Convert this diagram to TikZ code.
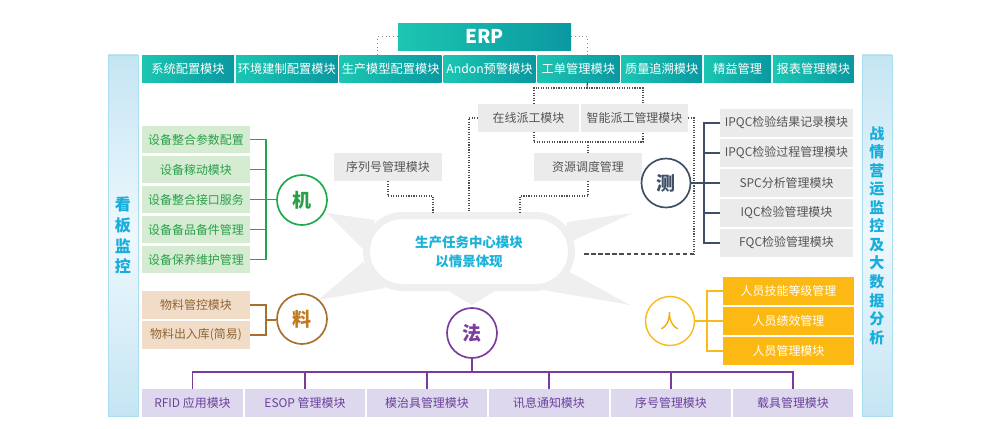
\documentclass[tikz,border=0pt]{standalone}
\usepackage{fontspec}
\usetikzlibrary{calc,positioning}
\newfontfamily\cjk{Noto Sans CJK SC}
\definecolor{tealL}{HTML}{1CC6B2}
\definecolor{tealR}{HTML}{0A98A0}
\definecolor{sideblue}{HTML}{C5E5F3}
\definecolor{sidelight}{HTML}{EEF8FD}
\definecolor{sideedge}{HTML}{A9DDF0}
\definecolor{sidetext}{HTML}{17AEDC}
\definecolor{jigreen}{HTML}{1DAA4B}
\definecolor{jifill}{HTML}{D5ECD3}
\definecolor{jitext}{HTML}{2A9F49}
\definecolor{liaofill}{HTML}{F1DCC8}
\definecolor{liaotext}{HTML}{8E6535}
\definecolor{liaoline}{HTML}{A8702F}
\definecolor{liaochar}{HTML}{C27A1F}
\definecolor{fapurple}{HTML}{7B3C9E}
\definecolor{fafill}{HTML}{DDD8EE}
\definecolor{fatext}{HTML}{6C3F9C}
\definecolor{ceslate}{HTML}{3F4F66}
\definecolor{cefill}{HTML}{EBEBEB}
\definecolor{boxtext}{HTML}{555555}
\definecolor{renyellow}{HTML}{FDB913}
\definecolor{renline}{HTML}{F7BC1A}
\definecolor{renchar}{HTML}{F2A900}
\definecolor{burstgray}{HTML}{EFEFEF}
\definecolor{coretext}{HTML}{1AB2DA}
\tikzset{
  topmod/.style={left color=tealL, right color=tealR, text=white,
                 minimum height=6.75mm, inner sep=0pt, outer sep=0pt,
                 font=\cjk\fontsize{8.7}{10}\selectfont},
  sidepanel/.style={top color=sideblue, bottom color=sideblue,
                    middle color=sidelight, draw=sideedge, line width=0.5pt,
                    minimum width=7.5mm, minimum height=90.25mm,
                    inner sep=0pt, align=center, text=sidetext},
  modbox/.style={minimum height=7mm, inner sep=0pt, outer sep=0pt,
                 font=\cjk\fontsize{8.5}{10}\selectfont},
  jibox/.style={modbox, fill=jifill, text=jitext, minimum width=27mm,
                minimum height=6.75mm},
  liaobox/.style={modbox, fill=liaofill, text=liaotext, minimum width=27mm},
  fabox/.style={modbox, fill=fafill, text=fatext, minimum width=30mm},
  cebox/.style={modbox, fill=cefill, text=boxtext, minimum width=33.25mm},
  renbox/.style={modbox, fill=renyellow, text=white, minimum width=32.75mm},
  graybox/.style={modbox, fill=cefill, text=boxtext},
  hub/.style={circle, draw, line width=1.2pt, fill=white,
              minimum size=12.5mm, inner sep=0pt,
              font=\cjk\bfseries\fontsize{13.5}{14}\selectfont},
  core/.style={draw=burstgray, line width=1.75mm, fill=white,
               rounded corners=9mm, minimum width=51.25mm,
               minimum height=18mm, align=center, text=coretext,
               font=\cjk\bfseries\fontsize{9.6}{13.5}\selectfont},
  jiline/.style={draw=jigreen, line width=1.2pt},
  liaoline/.style={draw=liaoline, line width=1.2pt},
  faline/.style={draw=fapurple, line width=1.2pt},
  celine/.style={draw=ceslate, line width=1.2pt},
  renlink/.style={draw=renline, line width=1pt},
  dotline/.style={densely dotted, line width=0.8pt, draw=black!70},
  erpdot/.style={dotted, line width=0.7pt, draw=black!45},
}

\begin{document}
\begin{tikzpicture}[x=0.25mm,y=-0.25mm]
  \path[use as bounding box] (0,0) rectangle (1000,429);

  % top module bar
  \node[topmod, minimum width=23mm] (b1) at (188,68.5) {系统配置模块};
  \node[topmod, minimum width=25.5mm, right=0.46mm of b1] (b2) {环境建制配置模块};
  \node[topmod, minimum width=25.5mm, right=0.46mm of b2] (b3) {生产模型配置模块};
  \node[topmod, minimum width=23mm, right=0.46mm of b3] (b4) {Andon预警模块};
  \node[topmod, minimum width=20.5mm, right=0.46mm of b4] (b5) {工单管理模块};
  \node[topmod, minimum width=20.25mm, right=0.46mm of b5] (b6) {质量追溯模块};
  \node[topmod, minimum width=16.75mm, right=0.46mm of b6] (b7) {精益管理};
  \node[topmod, minimum width=20.25mm, right=0.46mm of b7] (b8) {报表管理模块};

  \node[topmod, minimum width=43.25mm,
        font=\cjk\bfseries\fontsize{13.5}{15}\selectfont] (erp) at (484.5,36.5) {ERP};
  \draw[erpdot] (erp.west) -| ($(b3.north west)+(38,0)$);
  \draw[erpdot] (erp.east) -| ($(b5.north west)+(50,0)$);

  % side panels
  \node[sidepanel, font=\cjk\bfseries\fontsize{11.4}{14.6}\selectfont] (kanban)
    at (123,235.5) {看\\板\\监\\控};
  \node[sidepanel, font=\cjk\bfseries\fontsize{10.7}{13.2}\selectfont] (zhanqing)
    at (877,235.5) {战\\情\\营\\运\\监\\控\\及\\大\\数\\据\\分\\析};

  % centre burst
  \fill[burstgray] (327,213) -- (375,220) -- (364,250) -- cycle;
  \fill[burstgray] (318,300) -- (363,262) -- (385,288) -- cycle;
  \fill[burstgray] (633,213) -- (567,222) -- (563,245) -- cycle;
  \fill[burstgray] (630,305) -- (557,265) -- (543,290) -- cycle;
  \fill[burstgray] (472,305) -- (440,286) -- (503,286) -- cycle;
  \node[core] (core) at (469,251.5) {生产任务中心模块\\以情景体现};

  % dispatch boxes
  \node[graybox, minimum width=25.25mm] (zx) at (528.5,118) {在线派工模块};
  \node[graybox, minimum width=26.75mm, right=0.5mm of zx] (zn) {智能派工管理模块};
  \node[graybox, minimum width=27mm] (zy) at (588,167) {资源调度管理};
  \node[graybox, minimum width=27mm] (xl) at (388,167) {序列号管理模块};

  \coordinate (gdtop) at (587,88);
  \coordinate (zymid) at (588,142);
  \coordinate (zyknee) at (520,196);
  \coordinate (xlknee) at (433,196);
  \coordinate (zxdrop) at (469,212);
  \coordinate (zndrop) at (694,254);
  \coordinate (znend) at (583,254);
  \draw[black!70, line width=0.8pt] ($(b5.south west)+(50,0)$) -- (gdtop);
  \draw[dotline] ($(zx.north west)+(56,0)$) |- (gdtop) -| ($(zn.north west)+(62,0)$);
  \draw[dotline] ($(zx.south west)+(56,0)$) |- (zymid) -| ($(zn.south west)+(62,0)$);
  \draw[dotline] (zymid) -- (zy.north);
  \draw[dotline] (zy.south) |- (zyknee) -- (zyknee |- zxdrop);
  \draw[dotline] (xl.south) |- (xlknee) -- (xlknee |- zxdrop);
  \draw[dotline] (zx.west) -| (zxdrop);
  \draw[dotline] (zn.east) -| (zndrop);
  \draw[densely dashed, line width=0.8pt, draw=black!70] (zndrop) -- (znend);

  % machine
  \node[jibox] (ji1) at (196,139.5) {设备整合参数配置};
  \node[jibox, below=0.75mm of ji1] (ji2) {设备稼动模块};
  \node[jibox, below=0.75mm of ji2] (ji3) {设备整合接口服务};
  \node[jibox, below=0.75mm of ji3] (ji4) {设备备品备件管理};
  \node[jibox, below=0.75mm of ji4] (ji5) {设备保养维护管理};
  \node[hub, draw=jigreen, text=jitext] (ji) at (302,200) {机};
  \coordinate (jibar) at (266,199.5);
  \draw[jiline] (ji1.east) -| (ji5.east -| jibar) -- (ji5.east);
  \foreach \i in {2,3,4}
    \draw[jiline] (ji\i.east -| jibar) -- (ji\i.east);
  \draw[jiline] (jibar) -- (jibar -| ji.west);

  % material
  \node[liaobox] (liao1) at (196,305) {物料管控模块};
  \node[liaobox, below=0.5mm of liao1] (liao2) {物料出入库(简易)};
  \node[hub, draw=liaoline, text=liaochar] (liao) at (302,319) {料};
  \coordinate (liaobar) at (266,320);
  \draw[liaoline] (liao1.east) -| (liao2.east -| liaobar) -- (liao2.east);
  \draw[liaoline] (liaobar) -- (liaobar -| liao.west);

  % method
  \node[hub, draw=fapurple, text=fapurple] (fa) at (472,333) {法};
  \node[fabox, minimum width=25.25mm] (fa1) at (192.5,403) {RFID 应用模块};
  \node[fabox, right=0.5mm of fa1] (fa2) {ESOP 管理模块};
  \node[fabox, right=0.5mm of fa2] (fa3) {模治具管理模块};
  \node[fabox, right=0.5mm of fa3] (fa4) {讯息通知模块};
  \node[fabox, right=0.5mm of fa4] (fa5) {序号管理模块};
  \node[fabox, right=0.5mm of fa5] (fa6) {载具管理模块};
  \coordinate (fabus) at (472,372);
  \draw[faline] (fa.south) -- (fabus);
  \draw[faline] (fa1.north) |- (fa6.north |- fabus) -- (fa6.north);
  \foreach \i in {2,...,5}
    \draw[faline] (fa\i.north |- fabus) -- (fa\i.north);

  % measurement
  \node[hub, draw=ceslate, text=ceslate, minimum size=12.25mm] (ce) at (666,183) {测};
  \node[cebox] (ce1) at (786.5,123) {IPQC检验结果记录模块};
  \node[cebox, below=0.5mm of ce1] (ce2) {IPQC检验过程管理模块};
  \node[cebox, below=0.5mm of ce2] (ce3) {SPC分析管理模块};
  \node[cebox, below=0.5mm of ce3] (ce4) {IQC检验管理模块};
  \node[cebox, below=0.5mm of ce4] (ce5) {FQC检验管理模块};
  \coordinate (cebar) at (704,183);
  \draw[celine] (ce1.west) -| (ce5.west -| cebar) -- (ce5.west);
  \foreach \i in {2,3,4}
    \draw[celine] (ce\i.west -| cebar) -- (ce\i.west);
  \draw[celine] (ce.east) -- (ce.east -| cebar);

  % people
  \node[hub, draw=renline, text=renchar, line width=1pt, minimum size=12.25mm,
        font=\cjk\fontsize{13.5}{14}\selectfont] (ren) at (670,321) {人};
  \node[renbox] (ren1) at (788.5,291) {人员技能等级管理};
  \node[renbox, below=0.5mm of ren1] (ren2) {人员绩效管理};
  \node[renbox, below=0.5mm of ren2] (ren3) {人员管理模块};
  \coordinate (renbar) at (707,321);
  \draw[renlink] (ren1.west) -| (ren3.west -| renbar) -- (ren3.west);
  \draw[renlink] (ren2.west -| renbar) -- (ren2.west);
  \draw[renlink] (ren.east) -- (ren.east -| renbar);
\end{tikzpicture}
\end{document}
